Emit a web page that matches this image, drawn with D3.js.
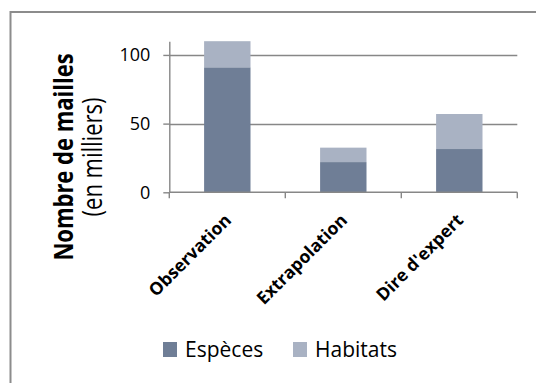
<!DOCTYPE html>
<html>
<head>
<meta charset="utf-8">
<script src="https://cdn.jsdelivr.net/npm/d3@7/dist/d3.min.js"></script>
<style>
  html, body { margin: 0; padding: 0; background: #fff; }
  svg { display: block; }
  text { font-family: "Open Sans", sans-serif; fill: #000; }
</style>
</head>
<body>
<svg id="chart" width="536" height="383"></svg>
<script>
// Nombre de mailles (en milliers) par type de donnée
const categories = ["Observation", "Extrapolation", "Dire d'expert"];
const seriesNames = ["Espèces", "Habitats"];
const especes = [91, 22, 31.5];
const habitats = [19, 10.5, 25.5];
const yTicks = [0, 50, 100];
const yMax = 110;
const colors = ["#6F7E96", "#A9B2C3"];

const svg = d3.select("#chart");

// chart frame (left and top edges visible)
svg.append("rect")
  .attr("x", 10.5).attr("y", 12)
  .attr("width", 600).attr("height", 500)
  .attr("fill", "none")
  .attr("stroke", "#8C8C8C")
  .attr("stroke-width", 2);

const plot = { left: 169.3, right: 517.3, top: 41.2, bottom: 192.3 };

const x = d3.scaleBand()
  .domain(categories)
  .range([plot.left, plot.right])
  .paddingInner(0.6)
  .paddingOuter(0.3);

const y = d3.scaleLinear()
  .domain([0, yMax])
  .range([plot.bottom, plot.top]);

// gridlines
svg.append("g")
  .selectAll("line")
  .data(yTicks.filter(d => d > 0))
  .join("line")
  .attr("x1", plot.left).attr("x2", plot.right)
  .attr("y1", d => Math.round(y(d)) + 0.5).attr("y2", d => Math.round(y(d)) + 0.5)
  .attr("stroke", "#878787")
  .attr("stroke-width", 1.4);

// stacked bars
const rows = categories.map((c, i) => ({ cat: c, "Espèces": especes[i], "Habitats": habitats[i] }));
const stacked = d3.stack().keys(seriesNames)(rows);

svg.append("g")
  .selectAll("g")
  .data(stacked)
  .join("g")
  .attr("fill", (d, i) => colors[i])
  .selectAll("rect")
  .data(d => d)
  .join("rect")
  .attr("x", d => x(d.data.cat))
  .attr("width", x.bandwidth())
  .attr("y", d => y(d[1]))
  .attr("height", d => y(d[0]) - y(d[1]));

// y axis
const yAxis = svg.append("g")
  .attr("transform", `translate(${plot.left},0)`)
  .call(d3.axisLeft(y).tickValues(yTicks).tickSize(6).tickSizeOuter(0).tickPadding(13));
yAxis.select(".domain").attr("stroke", "#878787").attr("stroke-width", 1.4);
yAxis.selectAll(".tick line").attr("stroke", "#878787").attr("stroke-width", 1.4);
yAxis.selectAll(".tick text")
  .attr("font-size", 18)
  .attr("font-family", "Open Sans, sans-serif")
  .attr("fill", "#000");

// x axis: baseline and category boundary ticks
svg.append("line")
  .attr("x1", plot.left).attr("x2", plot.right)
  .attr("y1", plot.bottom).attr("y2", plot.bottom)
  .attr("stroke", "#878787").attr("stroke-width", 1.4);

const step = x.step();
const bounds = d3.range(categories.length + 1).map(i => plot.left + i * step);
svg.append("g")
  .selectAll("line")
  .data(bounds)
  .join("line")
  .attr("x1", d => d).attr("x2", d => d)
  .attr("y1", plot.bottom).attr("y2", plot.bottom + 6)
  .attr("stroke", "#878787").attr("stroke-width", 1.4);

// rotated category labels
svg.append("g")
  .selectAll("text")
  .data(categories)
  .join("text")
  .attr("transform", d => `translate(${x(d) + x.bandwidth() / 2 + 5},${plot.bottom + 29}) rotate(-45)`)
  .attr("text-anchor", "end")
  .attr("font-weight", "bold")
  .attr("font-size", 17.5)
  .text(d => d);

// y axis title (two lines)
svg.append("text")
  .attr("transform", "translate(73,157) rotate(-90) scale(1,1.25)")
  .attr("text-anchor", "middle")
  .attr("font-weight", "bold")
  .attr("font-size", 22)
  .text("Nombre de mailles");
svg.append("text")
  .attr("transform", "translate(102,157) rotate(-90) scale(1,1.25)")
  .attr("text-anchor", "middle")
  .attr("font-size", 22)
  .text("(en milliers)");

// legend
const legendX = [163, 293];
const lg = svg.append("g")
  .selectAll("g")
  .data(seriesNames)
  .join("g")
  .attr("transform", (d, i) => `translate(${legendX[i]},342)`);
lg.append("rect")
  .attr("width", 14).attr("height", 15)
  .attr("fill", (d, i) => colors[i]);
lg.append("text")
  .attr("x", 22).attr("y", 15)
  .attr("font-size", 21)
  .text(d => d);
</script>
</body>
</html>
